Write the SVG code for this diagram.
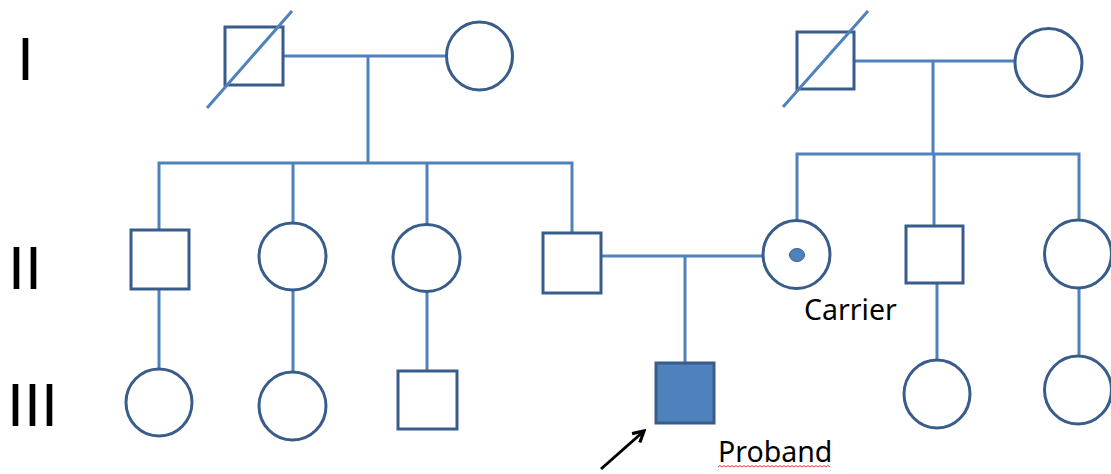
<svg xmlns="http://www.w3.org/2000/svg" width="1111" height="474" viewBox="0 0 1111 474">
  <style>
    .ln { stroke: #4F81BD; stroke-width: 3; fill: none; }
    .sh { stroke: #385D8A; stroke-width: 3; fill: #FFFFFF; }
    .aff { stroke: #385D8A; stroke-width: 3; fill: #4F81BD; }
    .gen { font-family: "Liberation Sans", Arial, sans-serif; font-size: 61px; fill: #000000; }
    .lbl { font-family: "Noto Sans", "Liberation Sans", sans-serif; font-size: 28.5px; fill: #000000; }
  </style>
  <defs>
    <marker id="ah" viewBox="0 0 14 14" refX="12" refY="7" markerWidth="15" markerHeight="15" markerUnits="userSpaceOnUse" orient="auto">
      <path d="M2,1.5 L12,7 L2,12.5" fill="none" stroke="#000000" stroke-width="3" stroke-linejoin="miter"/>
    </marker>
  </defs>

  <g id="labels">
    <text class="gen" x="17" y="80">I</text>
    <text class="gen" x="8" y="289">II</text>
    <text class="gen" x="7" y="426">III</text>
  </g>

  <g id="connectors">
    <!-- Gen I left family -->
    <line class="ln" x1="283" y1="56" x2="446" y2="56"/>
    <line class="ln" x1="368" y1="56" x2="368" y2="163"/>
    <polyline class="ln" points="159,230 159,163 572,163 572,233"/>
    <line class="ln" x1="293" y1="163" x2="293" y2="223"/>
    <line class="ln" x1="427" y1="163" x2="427" y2="225"/>
    <!-- Gen I right family -->
    <line class="ln" x1="854" y1="61" x2="1015" y2="61"/>
    <line class="ln" x1="933" y1="61" x2="933" y2="154"/>
    <polyline class="ln" points="797,221 797,154 1079,154 1079,220"/>
    <line class="ln" x1="934" y1="154" x2="934" y2="226"/>
    <!-- Gen II to III -->
    <line class="ln" x1="159" y1="289" x2="159" y2="369"/>
    <line class="ln" x1="293" y1="290" x2="293" y2="372"/>
    <line class="ln" x1="427" y1="291" x2="427" y2="371"/>
    <line class="ln" x1="601" y1="256" x2="763" y2="256"/>
    <line class="ln" x1="685" y1="256" x2="685" y2="363"/>
    <line class="ln" x1="937" y1="283" x2="937" y2="360"/>
    <line class="ln" x1="1079" y1="288" x2="1079" y2="356"/>
    <!-- proband arrow -->
    <line x1="601" y1="469" x2="644" y2="431" stroke="#000000" stroke-width="3" marker-end="url(#ah)"/>
  </g>

  <g id="I-1">
    <rect class="sh" x="225" y="27" width="58" height="58"/>
    <line class="ln" x1="207" y1="108" x2="292" y2="11"/>
  </g>
  <g id="I-2"><ellipse class="sh" cx="479.5" cy="56" rx="33" ry="34"/></g>
  <g id="I-3">
    <rect class="sh" x="797" y="32" width="57" height="57"/>
    <line class="ln" x1="783" y1="107" x2="868" y2="11"/>
  </g>
  <g id="I-4"><ellipse class="sh" cx="1048.5" cy="62.5" rx="33.5" ry="34"/></g>

  <g id="II-1"><rect class="sh" x="131" y="230" width="58" height="59"/></g>
  <g id="II-2"><ellipse class="sh" cx="292.5" cy="256.5" rx="33.5" ry="33.5"/></g>
  <g id="II-3"><ellipse class="sh" cx="426.5" cy="258" rx="33.5" ry="33.5"/></g>
  <g id="II-4"><rect class="sh" x="543" y="233" width="58" height="60"/></g>
  <g id="II-5">
    <ellipse class="sh" cx="796.5" cy="254.5" rx="33.5" ry="34"/>
    <ellipse cx="797" cy="255" rx="7.5" ry="6.5" fill="#4F81BD" stroke="#385D8A" stroke-width="1"/>
    <text class="lbl" x="804" y="320">Carrier</text>
  </g>
  <g id="II-6"><rect class="sh" x="906" y="226" width="57" height="57"/></g>
  <g id="II-7"><ellipse class="sh" cx="1078" cy="254" rx="33.5" ry="34"/></g>

  <g id="III-1"><ellipse class="sh" cx="159" cy="402.5" rx="33" ry="33.5"/></g>
  <g id="III-2"><ellipse class="sh" cx="292.5" cy="406" rx="33.5" ry="34"/></g>
  <g id="III-3"><rect class="sh" x="398" y="371" width="59" height="58"/></g>
  <g id="III-4">
    <rect class="aff" x="656" y="363" width="58" height="60"/>
    <text class="lbl" x="718" y="462">Proband</text>
    <path d="M718,467 l2,-1.5 2,1.5 2,-1.5 2,1.5 2,-1.5 2,1.5 2,-1.5 2,1.5 2,-1.5 2,1.5 2,-1.5 2,1.5 2,-1.5 2,1.5 2,-1.5 2,1.5 2,-1.5 2,1.5 2,-1.5 2,1.5 2,-1.5 2,1.5 2,-1.5 2,1.5 2,-1.5 2,1.5 2,-1.5 2,1.5 2,-1.5 2,1.5 2,-1.5 2,1.5 2,-1.5 2,1.5 2,-1.5 2,1.5 2,-1.5 2,1.5 2,-1.5 2,1.5 2,-1.5 2,1.5 2,-1.5 2,1.5 2,-1.5 2,1.5 2,-1.5 2,1.5 2,-1.5 2,1.5 2,-1.5 2,1.5 2,-1.5 2,1.5 2,-1.5 2,1.5" fill="none" stroke="#E04040" stroke-width="1"/>
  </g>
  <g id="III-5"><ellipse class="sh" cx="937" cy="394" rx="33" ry="34"/></g>
  <g id="III-6"><ellipse class="sh" cx="1078" cy="390" rx="33.5" ry="34"/></g>
</svg>
